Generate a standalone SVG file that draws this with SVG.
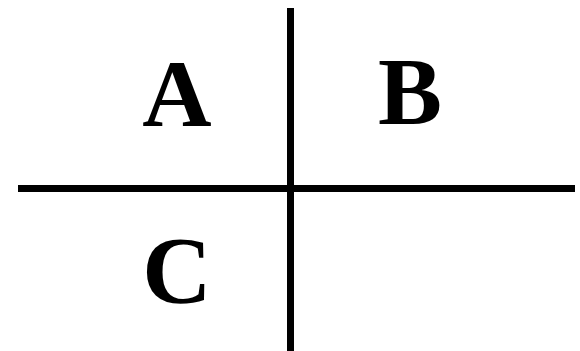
<svg xmlns="http://www.w3.org/2000/svg" width="580" height="351" viewBox="0 0 580 351">
<style>
.lbl{font-family:"Liberation Serif","Times New Roman",serif;font-weight:bold;font-size:96px;fill:#000;text-anchor:middle}
.ln{stroke:#000;stroke-width:7;fill:none}
</style>
<rect width="580" height="351" fill="#fff"/>
<g id="connectors">
<line class="ln" x1="290.5" y1="8" x2="290.5" y2="351"/>
<line class="ln" x1="18" y1="188.5" x2="575" y2="188.5"/>
</g>
<g id="A"><text class="lbl" x="177" y="126">A</text></g>
<g id="B"><text class="lbl" x="410" y="124">B</text></g>
<g id="C"><text class="lbl" x="177" y="303">C</text></g>
</svg>
